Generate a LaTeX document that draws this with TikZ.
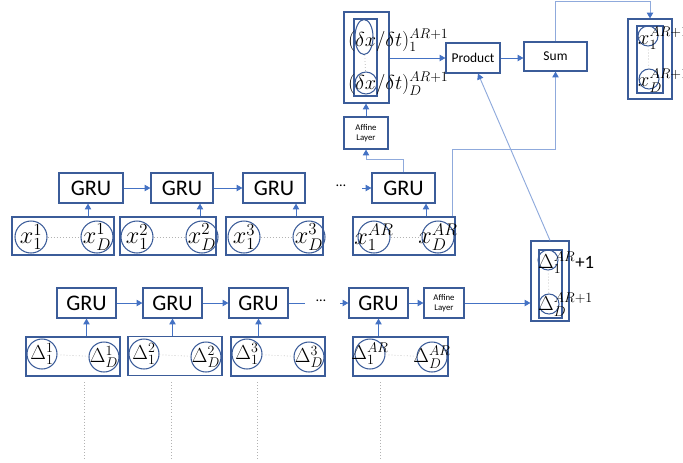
\documentclass[tikz,border=0pt]{standalone}
\usepackage{amsmath}
\usepackage{fontspec}
\setsansfont{Carlito}
\usetikzlibrary{arrows.meta,shapes.geometric}

\definecolor{boxblue}{RGB}{59,92,153}
\definecolor{arrblue}{RGB}{68,114,196}
\definecolor{lineblue}{RGB}{143,170,220}
\newcommand{\pxl}{0.03cm}

\tikzset{
  gru/.style={draw=boxblue, line width=1pt, minimum height=30*\pxl, inner sep=0pt, font=\sffamily\fontsize{19}{20}\selectfont},
  smallbox/.style={draw=boxblue, line width=1pt, inner sep=0pt, align=center, font=\sffamily\fontsize{7.5}{8.5}\selectfont},
  opbox/.style={draw=boxblue, line width=1pt, inner sep=0pt, font=\sffamily\fontsize{11.5}{13}\selectfont},
  inbox/.style={draw=boxblue, line width=1pt, inner sep=0pt},
  circ/.style={circle, draw=boxblue, line width=0.9pt, inner sep=0pt},
  xlab/.style={font=\fontsize{20.74}{22}\selectfont, inner sep=0pt},
  dlab/.style={font=\fontsize{17.28}{18}\selectfont, inner sep=0pt},
  glab/.style={font=\fontsize{17.28}{18}\selectfont, inner sep=0pt},
  arr/.style={draw=arrblue, line width=0.8pt, -{Triangle[width=5.5pt,length=5pt]}},
  link/.style={draw=lineblue, line width=0.8pt, -{Triangle[width=5.5pt,length=5pt,color=arrblue]}},
  dotline/.style={draw=gray!60, line width=0.6pt, dotted},
}

\begin{document}
\begin{tikzpicture}[x=\pxl, y=-\pxl]
\useasboundingbox (0,0) rectangle (683,462);

% upper chain, over x
\node[gru, minimum width=64*\pxl] (tg1) at (91,188) {GRU};
\node[gru, minimum width=62*\pxl] (tg2) at (182,188) {GRU};
\node[gru, minimum width=62*\pxl] (tg3) at (274,188) {GRU};
\node[font=\sffamily\fontsize{12}{12}\selectfont] (tdots) at (341,186) {\dots};
\node[gru, minimum width=63*\pxl] (tg4) at (403.5,188) {GRU};
\coordinate (tgap) at (362,188);
\draw[arr] (tg1) -- (tg2);
\draw[arr] (tg2) -- (tg3);
\draw[arr] (tgap) -- (tg4);

\node[inbox, minimum width=102*\pxl, minimum height=38*\pxl] (tx1) at (63,236) {};
\node[circ, minimum size=32*\pxl] (tx1a) at (31,237) {};
\node[circ, minimum size=32*\pxl] (tx1d) at (97,237) {};
\node[xlab] at (tx1a) {$x_1^1$};
\node[xlab] at (tx1d) {$x_D^1$};
\draw[dotline] (tx1a) -- (tx1d);

\node[inbox, minimum width=96*\pxl, minimum height=38*\pxl] (tx2) at (168,236) {};
\node[circ, minimum size=32*\pxl] (tx2a) at (137,237) {};
\node[circ, minimum size=32*\pxl] (tx2d) at (202,237) {};
\node[xlab] at (tx2a) {$x_1^2$};
\node[xlab] at (tx2d) {$x_D^2$};
\draw[dotline] (tx2a) -- (tx2d);

\node[inbox, minimum width=97*\pxl, minimum height=38*\pxl] (tx3) at (274.5,236) {};
\node[circ, minimum size=32*\pxl] (tx3a) at (244,237) {};
\node[circ, minimum size=32*\pxl] (tx3d) at (309,237) {};
\node[xlab] at (tx3a) {$x_1^3$};
\node[xlab] at (tx3d) {$x_D^3$};
\draw[dotline] (tx3a) -- (tx3d);

\node[inbox, minimum width=102*\pxl, minimum height=38*\pxl] (tx4) at (404,236) {};
\node[circ, minimum size=32*\pxl] (tx4a) at (374,237) {};
\node[circ, minimum size=32*\pxl] (tx4d) at (438,237) {};
\node[xlab] at (tx4a) {$x_1^{AR}$};
\node[xlab] at (tx4d) {$x_D^{AR}$};
\draw[dotline] (tx4a) -- (tx4d);

\draw[arr] (tx1.north -| 88,0) -- (tg1.south -| 88,0);
\draw[arr] (tx2.north -| 200,0) -- (tg2.south -| 200,0);
\draw[arr] (tx3.north -| 296,0) -- (tg3.south -| 296,0);
\draw[arr] (tx4.north -| 426,0) -- (tg4.south -| 426,0);

% lower chain, over delta
\node[gru, minimum width=59*\pxl] (bg1) at (86.5,303) {GRU};
\node[gru, minimum width=59*\pxl] (bg2) at (172.5,303) {GRU};
\node[gru, minimum width=59*\pxl] (bg3) at (258.5,303) {GRU};
\node[font=\sffamily\fontsize{12}{12}\selectfont] (bdots) at (321,301) {\dots};
\node[gru, minimum width=59*\pxl] (bg4) at (378.5,303) {GRU};
\node[smallbox, minimum width=40*\pxl, minimum height=30*\pxl] (baff) at (444,303) {Affine\\Layer};
\coordinate (bstub) at (305,303);
\coordinate (bgap) at (340,303);
\draw[arr] (bg1) -- (bg2);
\draw[arr] (bg2) -- (bg3);
\draw[draw=arrblue, line width=0.8pt] (bg3) -- (bstub);
\draw[arr] (bgap) -- (bg4);
\draw[arr] (bg4) -- (baff);

\node[inbox, minimum width=94*\pxl, minimum height=39*\pxl] (bx1) at (73,356.5) {};
\node[circ, minimum size=30*\pxl] (bx1a) at (42,354) {};
\node[circ, minimum size=30*\pxl] (bx1d) at (104,357) {};
\node[dlab] at (bx1a) {$\Delta_1^1$};
\node[dlab] at (bx1d) {$\Delta_D^1$};
\draw[dotline] (bx1a) -- (bx1d);

\node[inbox, minimum width=94*\pxl, minimum height=39*\pxl] (bx2) at (175,356) {};
\node[circ, minimum size=30*\pxl] (bx2a) at (144,354) {};
\node[circ, minimum size=30*\pxl] (bx2d) at (206,357) {};
\node[dlab] at (bx2a) {$\Delta_1^2$};
\node[dlab] at (bx2d) {$\Delta_D^2$};
\draw[dotline] (bx2a) -- (bx2d);

\node[inbox, minimum width=94*\pxl, minimum height=39*\pxl] (bx3) at (278,356.5) {};
\node[circ, minimum size=30*\pxl] (bx3a) at (247,354) {};
\node[circ, minimum size=30*\pxl] (bx3d) at (309,357) {};
\node[dlab] at (bx3a) {$\Delta_1^3$};
\node[dlab] at (bx3d) {$\Delta_D^3$};
\draw[dotline] (bx3a) -- (bx3d);

\node[inbox, minimum width=95*\pxl, minimum height=39*\pxl] (bx4) at (400.5,356.5) {};
\node[circ, minimum size=30*\pxl] (bx4a) at (370,354) {};
\node[circ, minimum size=30*\pxl] (bx4d) at (432,357) {};
\node[dlab] at (bx4a) {$\Delta_1^{AR}$};
\node[dlab] at (bx4d) {$\Delta_D^{AR}$};
\draw[dotline] (bx4a) -- (bx4d);

\draw[arr] (bx1.north -| bg1) -- (bg1);
\draw[arr] (bx2.north -| bg2) -- (bg2);
\draw[arr] (bx3.north -| bg3) -- (bg3);
\draw[arr] (bx4.north -| bg4) -- (bg4);

\draw[dotline] (84,382) -- (84,460);
\draw[dotline] (171,382) -- (171,460);
\draw[dotline] (257,382) -- (257,460);
\draw[dotline] (380,382) -- (380,460);

% next delta
\node[inbox, minimum width=38*\pxl, minimum height=80*\pxl] (dout) at (550,281) {};
\node[inbox, minimum width=23*\pxl, minimum height=68*\pxl] (din) at (550.5,284) {};
\node[circ, minimum size=20*\pxl] (dc1) at (548,260) {};
\node[circ, minimum size=20*\pxl] (dcD) at (549,304) {};
\draw[dotline] (dc1) -- (dcD);
\node[dlab, anchor=west] at (538,263) {$\Delta_1^{AR}${\sffamily\fontsize{16}{16}\selectfont +1}};
\node[dlab, anchor=west] at (538,305) {$\Delta_D^{AR+1}$};
\draw[arr] (baff) -- (dout.west |- baff);

% derivative
\node[inbox, minimum width=45*\pxl, minimum height=91*\pxl] (gout) at (366.5,57.5) {};
\node[inbox, minimum width=23*\pxl, minimum height=77*\pxl] (gin) at (365.5,57.5) {};
\node[ellipse, draw=boxblue, line width=0.9pt, inner sep=0pt, minimum width=18*\pxl, minimum height=35*\pxl] (gc1) at (364,37) {};
\node[circ, minimum size=22*\pxl] (gcD) at (366,83) {};
\draw[dotline] (gc1) -- (gcD);
\node[glab, anchor=west] at (348,40) {$(\delta x/\delta t)_1^{AR+1}$};
\node[glab, anchor=west] at (348,84) {$(\delta x/\delta t)_D^{AR+1}$};

\node[smallbox, minimum width=44*\pxl, minimum height=32*\pxl] (taff) at (366,133) {Affine\\Layer};
\draw[arr] (taff) -- (gout.south -| taff);
\draw[link] (tg4.north) -- ++(0,-13) -| (taff.south);

% product and sum
\node[opbox, minimum width=54*\pxl, minimum height=30*\pxl] (prod) at (473,58) {Product};
\node[opbox, minimum width=63*\pxl, minimum height=29*\pxl] (sum) at (555.5,56.5) {Sum};
\draw[arr] (gout.east |- prod) -- (prod);
\draw[arr] (prod) -- (sum.west |- prod);
\draw[link] (dout.north) -- ([xshift=5*\pxl]prod.south);
\draw[link] (tx4.north -| 452,0) -- ++(0,-67) -| (sum.south);

% next x
\node[inbox, minimum width=44*\pxl, minimum height=80*\pxl] (rout) at (650,59) {};
\node[inbox, minimum width=26*\pxl, minimum height=67*\pxl] (rin) at (650,59.5) {};
\node[circ, minimum size=20*\pxl] (rc1) at (648,36) {};
\node[circ, minimum size=20*\pxl] (rcD) at (649,79) {};
\draw[dotline] (rc1) -- (rcD);
\node[dlab, anchor=west] at (638,38) {$x_1^{AR+1}$};
\node[dlab, anchor=west] at (638,81) {$x_D^{AR+1}$};
\draw[link] (sum.north) -- ++(0,-40) -| (rout.north);
\end{tikzpicture}
\end{document}
